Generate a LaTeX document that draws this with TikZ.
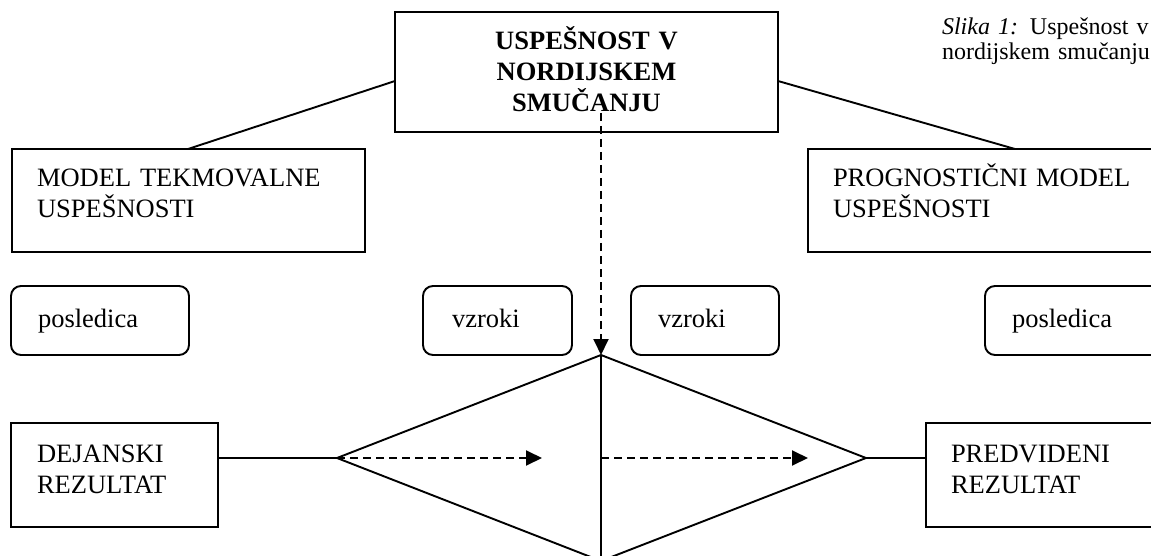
\documentclass[tikz,border=0pt]{standalone}
\usepackage{fontspec}
\setmainfont{Liberation Serif}
\usetikzlibrary{arrows.meta,calc}
\begin{document}
\begin{tikzpicture}[x=1pt,y=-1pt,
  every node/.style={outer sep=0pt, inner ysep=0pt},
  txt/.style={font=\fontsize{26.5}{31}\selectfont},
  sqbox/.style={txt, draw, line width=1.9pt, anchor=north west, align=left},
  rbox/.style={sqbox, rounded corners=10pt},
  conn/.style={line width=1.9pt},
  darrow/.style={line width=1.9pt, dash pattern=on 8pt off 5pt, -{Triangle[length=16pt,width=15pt]}}
]
\path[use as bounding box, clip] (0,0) rectangle (1151,556);

% title box
\node[sqbox, align=center, font=\fontsize{26.5}{31}\selectfont\bfseries,
      inner xsep=10pt, text width=363pt, text height=38pt, text depth=82pt]
  (T) at (395,12) {USPEŠNOST V\\NORDIJSKEM\\SMUČANJU};

% caption
\node[anchor=base west, align=left, inner xsep=0pt, text width=215pt,
      font=\fontsize{24}{25}\selectfont]
  (cap) at (942,35) {\textit{Slika 1:} Uspešnost v\\nordijskem smučanju};

% model boxes
\node[sqbox, inner xsep=25pt, text width=303pt, text height=38pt, text depth=65pt]
  (M1) at (12,149) {MODEL TEKMOVALNE\\USPEŠNOSTI};
\node[sqbox, inner xsep=25pt, text width=330pt, text height=38pt, text depth=65pt]
  (M2) at (808,149) {PROGNOSTIČNI MODEL\\USPEŠNOSTI};

% rounded boxes
\node[rbox, inner xsep=27pt, text width=124pt, text height=41pt, text depth=28pt]
  (P1) at (11,286) {posledica};
\node[rbox, inner xsep=29pt, text width=91pt, text height=41pt, text depth=28pt]
  (V1) at (423,286) {vzroki};
\node[rbox, inner xsep=27pt, text width=94pt, text height=41pt, text depth=28pt]
  (V2) at (631,286) {vzroki};
\node[rbox, inner xsep=27pt, text width=146pt, text height=41pt, text depth=28pt]
  (P2) at (985,286) {posledica};

% result boxes
\node[sqbox, inner xsep=26pt, text width=155pt, text height=39pt, text depth=65pt]
  (D1) at (11,423) {DEJANSKI\\REZULTAT};
\node[sqbox, inner xsep=25pt, text width=210pt, text height=39pt, text depth=65pt]
  (D2) at (926,423) {PREDVIDENI\\REZULTAT};

% diamond
\coordinate (dL) at (337,458);
\coordinate (dT) at (601,355);
\coordinate (dR) at (866,458);
\coordinate (dB) at (601,561);
\coordinate (dC) at (601,458);
\draw[conn, line join=miter] (dL) -- (dT) -- (dR) -- (dB) -- cycle;
\draw[conn] (dT) -- (dB);

% connectors from title
\draw[conn] ($(T.north west)+(0,69)$) -- ($(M1.north west)+(176,0)$);
\draw[conn] ($(T.north east)+(0,69)$) -- ($(M2.north west)+(207,0)$);
\coordinate (ts) at ($(T.north west)+(206,101)$);
\draw[darrow] (ts) -- (dT);

% result connectors
\draw[conn] ($(D1.north east)+(0,35)$) -- (dL);
\draw[conn] (dR) -- ($(D2.north west)+(0,35)$);

% dashed arrows inside diamond
\coordinate (a1) at (542,458);
\coordinate (a2) at (808,458);
\draw[darrow] (dL) -- (a1);
\draw[darrow] (dC) -- (a2);
\end{tikzpicture}
\end{document}
